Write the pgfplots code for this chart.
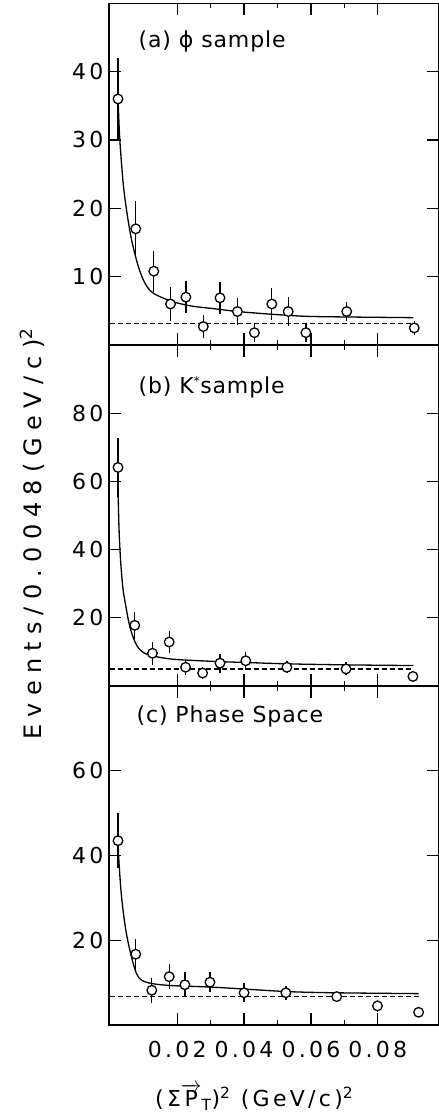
\documentclass[border=0pt]{standalone}
\usepackage{fontspec}
\setmainfont{DejaVu Sans}
\newfontfamily\tickfont[LetterSpace=15]{DejaVu Sans}
\newfontfamily\labfont[LetterSpace=30]{DejaVu Sans}
\newfontfamily\panfont[LetterSpace=4]{DejaVu Sans}
\usepackage{pgfplots}
\usepackage{pgfplotstable}
\pgfplotsset{compat=1.18}

% x, y, symmetric error
\pgfplotstableread{
x y e
0.0023 36.0 6.0
0.0076 17.0 4.0
0.0130 10.8 3.0
0.0180 6.0 2.5
0.0226 7.0 2.3
0.0278 2.7 1.7
0.0328 6.9 2.3
0.0380 4.9 2.0
0.0431 1.8 1.4
0.0483 6.0 2.4
0.0532 4.9 2.1
0.0585 1.8 1.4
0.0707 4.9 1.4
0.0909 2.5 1.0
}\dataA
\pgfplotstableread{
x y e
0.0023 64.1 8.6
0.0073 17.8 4.0
0.0126 9.6 3.4
0.0176 12.9 3.3
0.0225 5.5 2.2
0.0276 3.8 1.7
0.0328 6.7 2.8
0.0405 7.4 2.7
0.0528 5.5 1.8
0.0705 5.0 1.9
0.0905 2.8 1.4
}\dataB
\pgfplotstableread{
x y e
0.0023 43.5 6.5
0.0076 16.7 3.7
0.0124 8.2 3.0
0.0176 11.4 3.0
0.0223 9.5 3.0
0.0298 10.1 2.3
0.0400 7.6 2.2
0.0525 7.6 1.6
0.0677 6.7 1.2
0.0799 4.5 1.5
0.0922 3.0 1.2
}\dataC

\pgfplotsset{
  panel/.style={
    scale only axis, width=330pt,
    xmin=-0.0004, xmax=0.0983,
    xtick={0.02,0.04,0.06,0.08}, minor x tick num=1,
    scaled x ticks=false,
    xticklabels={},
    tick align=inside, xtick pos=both, ytick pos=both, yticklabel pos=left,
    major tick length=12pt, minor tick length=5pt,
    axis line style={line width=1.5pt},
    every tick/.style={black, line width=1.2pt},
    tick label style={font=\tickfont\fontsize{22}{24}\selectfont},
    yticklabel style={xshift=-2pt},
    /pgf/number format/assume math mode=true,
  },
  fitc/.style={black, line width=1.3pt, smooth, no marks},
  bkg/.style={black, line width=1.1pt, dash pattern=on 5pt off 3pt, no marks},
  errs/.style={black, only marks, mark=none,
    error bars/.cd, y dir=both, y explicit, error mark=none,
    error bar style={line width=1.3pt, solid}},
  pts/.style={black, only marks, mark=*, mark size=4.8pt,
    mark options={fill=white, draw=black, line width=1.3pt, solid}},
}

\begin{document}
\begin{tikzpicture}
% ---------------- (a) ----------------
\begin{axis}[panel, at={(0pt,0pt)}, anchor=north west, height=341.7pt,
  ymin=0, ymax=50, ytick={10,20,30,40}]
\addplot[fitc] coordinates {
 (0.0023,36.2) (0.0028,30.3) (0.0038,23.9) (0.0048,19.9) (0.0063,15.5)
 (0.0083,11.6) (0.0103,9.1) (0.0128,7.6) (0.0183,6.4) (0.0243,5.7)
 (0.0313,5.3) (0.038,4.9) (0.0483,4.5) (0.0585,4.2) (0.0707,4.1) (0.0906,4.0)};
\addplot[bkg] coordinates {(0,3.1) (0.0906,3.1)};
\addplot[errs] table[x=x, y=y, y error=e] {\dataA};
\addplot[pts] table[x=x, y=y] {\dataA};
\node[anchor=west, font=\panfont\fontsize{22}{24}\selectfont] at (axis description cs:0.079,0.887) {(a) ϕ sample};
\end{axis}
% ---------------- (b) ----------------
\begin{axis}[panel, at={(0pt,-341.7pt)}, anchor=north west, height=341pt,
  ymin=0, ymax=100, ytick={20,40,60,80},
  ylabel={Events/0.0048(GeV/c)\textsuperscript{2}},
  ylabel style={at={(axis description cs:-0.233,0.446)}, anchor=center,
    font=\labfont\fontsize{24}{26}\selectfont}]
\addplot[fitc] coordinates {
 (0.0023,58) (0.0026,46) (0.0031,36.3) (0.0038,28.4) (0.0048,22.5)
 (0.0058,17.5) (0.0073,13.1) (0.0088,10.7) (0.0113,9.2) (0.0183,7.9)
 (0.0313,7.2) (0.0405,6.9) (0.0528,6.5) (0.0705,6.2) (0.0906,6.0)};
\addplot[bkg] coordinates {(0,5.0) (0.0906,5.0)};
\addplot[errs] table[x=x, y=y, y error=e] {\dataB};
\addplot[pts] table[x=x, y=y] {\dataB};
\node[anchor=west, font=\panfont\fontsize{22}{24}\selectfont] at (axis description cs:0.079,0.877) {(b) K\textsuperscript{\large *}sample};
\end{axis}
% ---------------- (c) ----------------
\begin{axis}[panel, at={(0pt,-682.7pt)}, anchor=north west, height=339pt,
  ymin=0, ymax=80, ytick={20,40,60},
  xticklabels={0.02,0.04,0.06,0.08},
  xticklabel style={yshift=-13pt},
  xlabel={(Σ$\overrightarrow{\mbox{P}}$\textsubscript{T})\textsuperscript{2} (GeV/c)\textsuperscript{2}},
  xlabel style={at={(axis description cs:0.44,0)}, anchor=center, yshift=-72pt,
    font=\tickfont\fontsize{22}{24}\selectfont}]
\addplot[fitc] coordinates {
 (0.0023,43.5) (0.0025,39.6) (0.0031,32.5) (0.0038,27.1) (0.0048,21.6)
 (0.0063,16.1) (0.0078,12.2) (0.0093,10.6) (0.0123,9.8) (0.0183,9.3)
 (0.0313,8.9) (0.0525,7.9) (0.0677,7.6) (0.0922,7.4)};
\addplot[bkg] coordinates {(0,6.8) (0.0922,6.8)};
\addplot[errs] table[x=x, y=y, y error=e] {\dataC};
\addplot[pts] table[x=x, y=y] {\dataC};
\node[anchor=west, font=\panfont\fontsize{22}{24}\selectfont] at (axis description cs:0.073,0.909) {(c) Phase Space};
\end{axis}
\pgfresetboundingbox
\path[use as bounding box] (-109pt,3.3pt) rectangle (330pt,-1113.7pt);
\end{tikzpicture}
\end{document}
